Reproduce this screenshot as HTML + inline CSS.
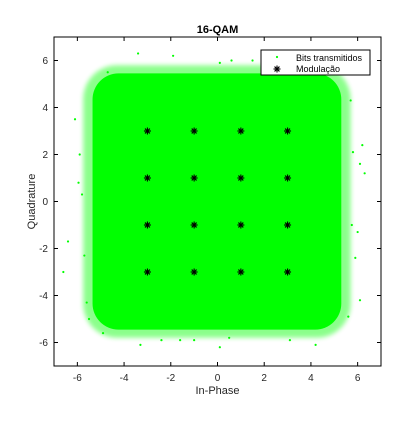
<!DOCTYPE html>
<html><head><meta charset="utf-8"><style>
body{margin:0;background:#fff;}
svg text{font-family:"Liberation Sans",sans-serif;}
</style></head><body>
<svg id="chart" width="420" height="420">
<defs><filter id="fz" x="-10%" y="-10%" width="120%" height="120%"><feGaussianBlur stdDeviation="2.5"/></filter></defs>
<rect width="420" height="420" fill="#fff"/>
<g id="plot"></g>
</svg>
<script>
const symbolsI=[-3,-1,1,3,-3,-1,1,3,-3,-1,1,3,-3,-1,1,3];
const symbolsQ=[3,3,3,3,1,1,1,1,-1,-1,-1,-1,-3,-3,-3,-3];
const cloudExtent=[-5.35,5.3,-5.45,5.45];
const haloExtent=[-5.75,5.7,-5.8,5.8];
const outlierI=[-6.4,-5.9,-5.7,-6.1,-5.6,5.8,6.1,6.3,5.9,6.1,-3.4,-1.9,0.1,0.6,-3.3,-1.6,0.1,0.5,3.1,4.2,-5.8,6.0,-4.7,5.7,-2.4,2.9,-6.6,-5.5,5.6,5.75,-4.9,4.9,-1.0,1.5,-5.95,6.2];
const outlierQ=[-1.7,2.0,-2.3,3.5,-4.3,2.1,1.6,1.2,-2.4,-4.2,6.3,6.2,5.9,6.0,-6.1,-5.9,-6.2,-5.8,-5.9,-6.1,0.3,-1.3,5.5,4.3,-5.9,6.1,-3.0,-5.0,-4.9,-1.0,-5.6,5.7,-5.9,6.0,0.8,2.4];
const xTicks=[-6,-4,-2,0,2,4,6];
const yTicks=[-6,-4,-2,0,2,4,6];
const L=54,R=381,T=37,B=366;
const xs=v=>L+(v+7)/14*(R-L);
const ys=v=>B-(v+7)/14*(B-T);
const NS='http://www.w3.org/2000/svg';
const g=document.getElementById('plot');
function mk(tag,a,parent){const e=document.createElementNS(NS,tag);for(const k in a)e.setAttribute(k,a[k]);(parent||g).appendChild(e);return e;}
const frame=mk('rect',{x:L,y:T,width:R-L,height:B-T,fill:'#fff',stroke:'none'});


const halo=mk('rect',{x:xs(haloExtent[0]),y:ys(haloExtent[3]),width:xs(haloExtent[1])-xs(haloExtent[0]),height:ys(haloExtent[2])-ys(haloExtent[3]),rx:34,ry:34,fill:'#00ff00',opacity:0.45,filter:'url(#fz)'});


const cloud=mk('rect',{x:xs(cloudExtent[0]),y:ys(cloudExtent[3]),width:xs(cloudExtent[1])-xs(cloudExtent[0]),height:ys(cloudExtent[2])-ys(cloudExtent[3]),rx:26,ry:26,fill:'#00ff00'});


for(let i=0;i<outlierI.length;i++){
  const d=mk('circle',{cx:xs(outlierI[i]),cy:ys(outlierQ[i]),r:1.1,fill:'#00ff00'});
  
  
}
function star(cx,cy,s,parent){
  const p=mk('g',{stroke:'#000','stroke-width':1.1},parent);
  mk('line',{x1:cx-s,y1:cy,x2:cx+s,y2:cy},p);
  mk('line',{x1:cx,y1:cy-s,x2:cx,y2:cy+s},p);
  mk('line',{x1:cx-s*0.7,y1:cy-s*0.7,x2:cx+s*0.7,y2:cy+s*0.7},p);
  mk('line',{x1:cx-s*0.7,y1:cy+s*0.7,x2:cx+s*0.7,y2:cy-s*0.7},p);
  return p;
}
for(let i=0;i<symbolsI.length;i++){
  const s=star(xs(symbolsI[i]),ys(symbolsQ[i]),3.5);
  
  
}
const border=mk('rect',{x:L,y:T,width:R-L,height:B-T,fill:'none',stroke:'#000','stroke-width':1});


xTicks.forEach(t=>{
  const x=xs(t);
  mk('line',{x1:x,y1:B,x2:x,y2:B-4,stroke:'#000'});
  mk('line',{x1:x,y1:T,x2:x,y2:T+4,stroke:'#000'});
  const tx=mk('text',{x:x,y:B+15,'text-anchor':'middle','font-size':10,fill:'#262626'});
  tx.textContent=String(t);
  
  
});
yTicks.forEach(t=>{
  const y=ys(t);
  mk('line',{x1:L,y1:y,x2:L+4,y2:y,stroke:'#000'});
  mk('line',{x1:R,y1:y,x2:R-4,y2:y,stroke:'#000'});
  const tx=mk('text',{x:L-6,y:y+3.5,'text-anchor':'end','font-size':10,fill:'#262626'});
  tx.textContent=String(t);
  
  
});
const title=mk('text',{x:(L+R)/2,y:33,'text-anchor':'middle','font-size':11,'font-weight':'bold'});
title.textContent='16-QAM';


const xl=mk('text',{x:(L+R)/2,y:394,'text-anchor':'middle','font-size':11,fill:'#262626'});
xl.textContent='In-Phase';


const yl=mk('text',{x:0,y:0,'text-anchor':'middle','font-size':11,fill:'#262626',transform:'translate(35,'+((T+B)/2)+') rotate(-90)'});
yl.textContent='Quadrature';


const lg=mk('g',{});


mk('rect',{x:261,y:50,width:109,height:25,fill:'#fff',stroke:'#000','stroke-width':1},lg);
mk('circle',{cx:277,cy:57,r:1.1,fill:'#00ff00'},lg);
const l1=mk('text',{x:296,y:61,'font-size':9},lg);
l1.textContent='Bits transmitidos';


star(277,69,3.5,lg);
const l2=mk('text',{x:296,y:72,'font-size':9},lg);
l2.textContent='Modulação';


</script>
</body></html>
